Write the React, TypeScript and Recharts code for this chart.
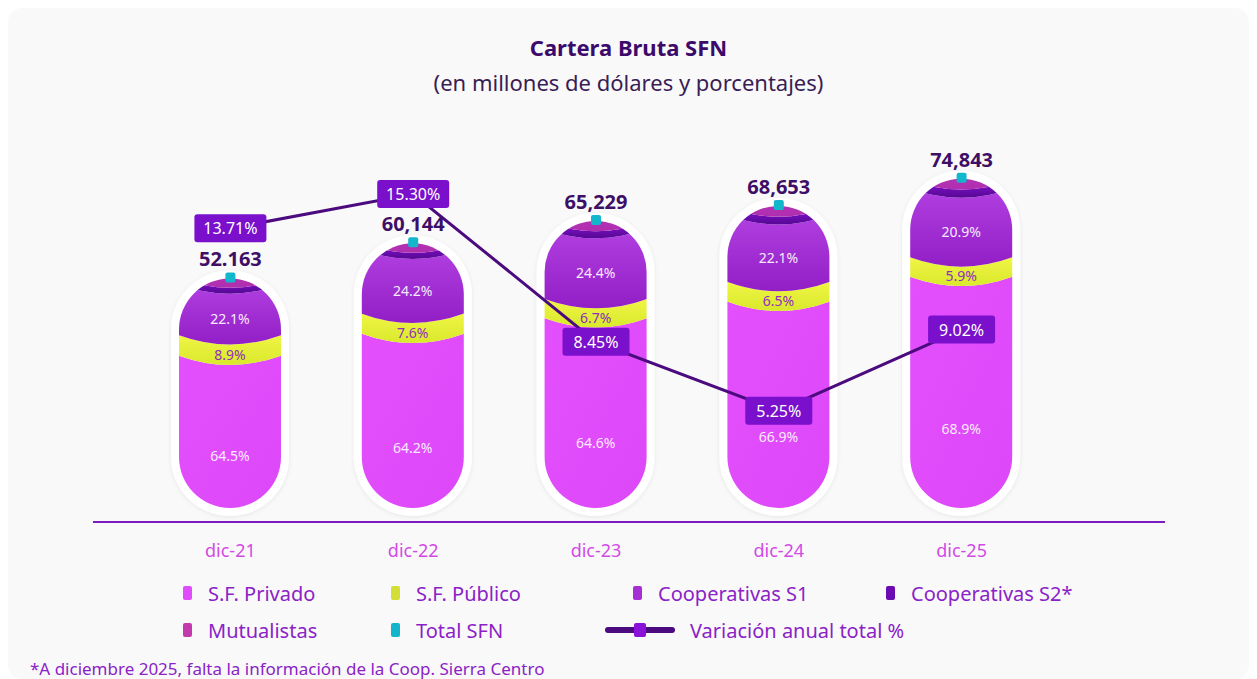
import React from 'react';
import { ComposedChart, Bar, Line, XAxis, YAxis, LabelList } from 'recharts';

const categories = ['dic-21', 'dic-22', 'dic-23', 'dic-24', 'dic-25'];
const totals = [52163, 60144, 65229, 68653, 74843];
const totalLabels = ['52.163', '60,144', '65,229', '68,653', '74,843'];
const privadoPct = [64.5, 64.2, 64.6, 66.9, 68.9];
const publicoPct = [8.9, 7.6, 6.7, 6.5, 5.9];
const coopS1Pct = [22.1, 24.2, 24.4, 22.1, 20.9];
const coopS2Pct = [2.6, 2.3, 2.5, 2.6, 2.5];
const mutualPct = [1.9, 1.7, 1.8, 1.9, 1.8];
const variacion = [13.71, 15.3, 8.45, 5.25, 9.02];
const variacionLabels = ['13.71%', '15.30%', '8.45%', '5.25%', '9.02%'];

const ORDER = ['privado', 'publico', 's1', 's2', 'mut'];
const pcts: Record<string, number[]> = {
  privado: privadoPct,
  publico: publicoPct,
  s1: coopS1Pct,
  s2: coopS2Pct,
  mut: mutualPct,
};

const data = categories.map((name, i) => ({
  name,
  total: totals[i],
  totalLabel: totalLabels[i],
  variacion: variacion[i],
  variacionLabel: variacionLabels[i],
  privado: (privadoPct[i] * totals[i]) / 100,
  publico: (publicoPct[i] * totals[i]) / 100,
  s1: (coopS1Pct[i] * totals[i]) / 100,
  s2: (coopS2Pct[i] * totals[i]) / 100,
  mut: (mutualPct[i] * totals[i]) / 100,
}));

const FONT = '"Noto Sans", Lato, sans-serif';
const SAG = 10;

const fills: Record<string, string> = {
  privado: 'url(#gPriv)',
  publico: 'url(#gPub)',
  s1: 'url(#gS1)',
  s2: 'url(#gS2)',
  mut: 'url(#gMut)',
};

function segShape(key: string) {
  return (props: any) => {
    const { x, y, width, height, payload, index } = props;
    const k = ORDER.indexOf(key);
    const v = payload[key];
    if (!v || !height) return <g />;
    let lo = 0;
    for (let i = 0; i < k; i++) lo += payload[ORDER[i]];
    const ppu = height / v;
    const base = y + height + lo * ppu;
    const top = base - payload.total * ppu;
    const cx = x + width / 2;
    const yT = y;
    const yB = y + height;
    const clipId = `pill-${key}-${index}`;

    const topEdge =
      k === ORDER.length - 1
        ? `M${x - 2},${top - 80} L${x + width + 2},${top - 80}`
        : `M${x - 2},${yT - SAG / 2} Q${cx},${yT + 1.5 * SAG} ${x + width + 2},${yT - SAG / 2}`;
    const botEdge =
      k === 0
        ? `L${x + width + 2},${base + 4} L${x - 2},${base + 4} Z`
        : `L${x + width + 2},${yB - SAG / 2} Q${cx},${yB + 1.5 * SAG} ${x - 2},${yB - SAG / 2} Z`;

    let label: React.ReactNode = null;
    const pct = pcts[key][index];
    if (key === 'privado') {
      label = (
        <text x={cx} y={yT + (yB - yT) * 0.65 + 5} textAnchor="middle" fontSize={14} fill="#fbeaff" fontFamily={FONT}>
          {pct}%
        </text>
      );
    } else if (key === 'publico' || key === 's1') {
      label = (
        <text
          x={cx}
          y={(yT + yB) / 2 + SAG / 2 + 5}
          textAnchor="middle"
          fontSize={14}
          fill={key === 'publico' ? '#8e2fbf' : '#f6eaff'}
          fontFamily={FONT}
        >
          {pct}%
        </text>
      );
    }

    return (
      <g>
        <defs>
          <clipPath id={clipId}>
            <rect x={x} y={top} width={width} height={base - top} rx={width / 2} ry={width / 2} />
          </clipPath>
        </defs>
        {k === 0 && (
          <rect
            x={x - 8}
            y={top - 8}
            width={width + 16}
            height={base - top + 16}
            rx={width / 2 + 8}
            fill="#ffffff"
            filter="url(#softShadow)"
          />
        )}
        <path d={`${topEdge} ${botEdge}`} fill={fills[key]} clipPath={`url(#${clipId})`} />
        {label}
      </g>
    );
  };
}

const VarLabel = (p: any) => {
  const x = p.x ?? p.viewBox?.x;
  const y = p.y ?? p.viewBox?.y;
  const txt = String(p.value);
  const w = txt.length * 5 + 42;
  return (
    <g>
      <rect x={x - w / 2} y={y - 14} width={w} height={28} rx={3} fill="#7a0fcc" />
      <text x={x} y={y + 6} textAnchor="middle" fontSize={16} fill="#ffffff" fontFamily={FONT}>
        {txt}
      </text>
    </g>
  );
};

const TotalLabel = (p: any) => {
  const x = p.x ?? p.viewBox?.x;
  const y = p.y ?? p.viewBox?.y;
  return (
    <text x={x} y={y - 12} textAnchor="middle" fontSize={20} fontWeight={700} fill="#3e0f66" fontFamily={FONT}>
      {p.value}
    </text>
  );
};

const TealDot = (p: any) => (
  <rect key={`dot-${p.index}`} x={p.cx - 5} y={p.cy - 6} width={10} height={10} rx={2} fill="#13b7cb" />
);

const XTick = (p: any) => (
  <text x={p.x} y={p.y + 27} textAnchor="middle" fontSize={18} fill="#d24ae6" fontFamily={FONT}>
    {p.payload.value}
  </text>
);

const legendRow1 = [
  { label: 'S.F. Privado', color: '#e04bfb', x: 183 },
  { label: 'S.F. Público', color: '#d3df36', x: 391 },
  { label: 'Cooperativas S1', color: '#a52fd3', x: 633 },
  { label: 'Cooperativas S2*', color: '#6c0bb2', x: 886 },
];
const legendRow2 = [
  { label: 'Mutualistas', color: '#c23aae', x: 183 },
  { label: 'Total SFN', color: '#12b5c9', x: 391 },
];

const LegendItem = ({ label, color, x, y }: { label: string; color: string; x: number; y: number }) => (
  <div style={{ position: 'absolute', left: x - 8, top: y - 8 - 12, height: 24, display: 'flex', alignItems: 'center' }}>
    <span style={{ width: 9, height: 14, borderRadius: 2, background: color, display: 'inline-block' }} />
    <span style={{ marginLeft: 16, fontSize: 20, color: '#8a22c7', fontFamily: FONT }}>{label}</span>
  </div>
);

export default function App() {
  return (
    <div
      style={{
        position: 'relative',
        width: 1241,
        height: 671,
        background: '#f9f9f9',
        borderRadius: 14,
        fontFamily: FONT,
        overflow: 'hidden',
      }}
    >
      <div style={{ position: 'absolute', top: 26, width: '100%', textAlign: 'center', fontSize: 22, lineHeight: '26px', fontWeight: 700, color: '#3b0a6b' }}>
        Cartera Bruta SFN
      </div>
      <div style={{ position: 'absolute', top: 61, width: '100%', textAlign: 'center', fontSize: 22, lineHeight: '26px', color: '#3a1d55' }}>
        (en millones de dólares y porcentajes)
      </div>

      <div style={{ position: 'absolute', left: 0, top: 0 }}>
        <ComposedChart width={1241} height={671} data={data} margin={{ top: 104, right: 84, bottom: 117, left: 85 }}>
          <defs>
            <linearGradient id="gPriv" x1="0" y1="0" x2="1" y2="1">
              <stop offset="0%" stopColor="#e44ffd" />
              <stop offset="100%" stopColor="#dc47f8" />
            </linearGradient>
            <linearGradient id="gPub" x1="0" y1="0" x2="0" y2="1">
              <stop offset="0%" stopColor="#f0f545" />
              <stop offset="100%" stopColor="#d9e92c" />
            </linearGradient>
            <linearGradient id="gS1" x1="0" y1="0" x2="0" y2="1">
              <stop offset="0%" stopColor="#b23fe0" />
              <stop offset="100%" stopColor="#921fc6" />
            </linearGradient>
            <linearGradient id="gS2" x1="0" y1="0" x2="0" y2="1">
              <stop offset="0%" stopColor="#8a12d9" />
              <stop offset="100%" stopColor="#560893" />
            </linearGradient>
            <linearGradient id="gMut" x1="0" y1="0" x2="0" y2="1">
              <stop offset="0%" stopColor="#c945c0" />
              <stop offset="100%" stopColor="#b02fb0" />
            </linearGradient>
            <filter id="softShadow" x="-20%" y="-20%" width="140%" height="140%">
              <feDropShadow dx="0" dy="1" stdDeviation="2" floodColor="#000000" floodOpacity="0.08" />
            </filter>
          </defs>
          <XAxis
            dataKey="name"
            height={40}
            padding={{ left: 46, right: 112 }}
            axisLine={{ stroke: '#7a1cc2', strokeWidth: 2 }}
            tickLine={false}
            tick={<XTick />}
            interval={0}
          />
          <YAxis yAxisId="bars" hide domain={[-3200, 90000]} />
          <YAxis yAxisId="pct" hide orientation="right" domain={[0.1, 19.1]} />
          {ORDER.map((key) => (
            <Bar
              key={key}
              dataKey={key}
              yAxisId="bars"
              stackId="sfn"
              barSize={102}
              isAnimationActive={false}
              shape={segShape(key)}
            />
          ))}
          <Line
            dataKey="total"
            yAxisId="bars"
            stroke="none"
            dot={TealDot}
            activeDot={false}
            isAnimationActive={false}
          >
            <LabelList dataKey="totalLabel" content={<TotalLabel />} />
          </Line>
          <Line
            dataKey="variacion"
            yAxisId="pct"
            stroke="#4b0b7e"
            strokeWidth={3}
            dot={false}
            activeDot={false}
            isAnimationActive={false}
          >
            <LabelList dataKey="variacionLabel" content={<VarLabel />} />
          </Line>
        </ComposedChart>
      </div>

      {legendRow1.map((it) => (
        <LegendItem key={it.label} {...it} y={593} />
      ))}
      {legendRow2.map((it) => (
        <LegendItem key={it.label} {...it} y={630} />
      ))}
      <div style={{ position: 'absolute', left: 605 - 8, top: 630 - 8 - 12, height: 24, display: 'flex', alignItems: 'center' }}>
        <svg width={70} height={16}>
          <rect x={0} y={5} width={70} height={6} rx={3} fill="#4b0b7e" />
          <rect x={29} y={1} width={12} height={14} rx={2} fill="#8a12d8" />
        </svg>
        <span style={{ marginLeft: 15, fontSize: 20, color: '#8a22c7', fontFamily: FONT }}>Variación anual total %</span>
      </div>
      <div style={{ position: 'absolute', left: 30 - 8, top: 669 - 8 - 11, fontSize: 17, lineHeight: '22px', color: '#8a22c7', whiteSpace: 'nowrap' }}>
        *A diciembre 2025, falta la información de la Coop. Sierra Centro
      </div>
    </div>
  );
}
